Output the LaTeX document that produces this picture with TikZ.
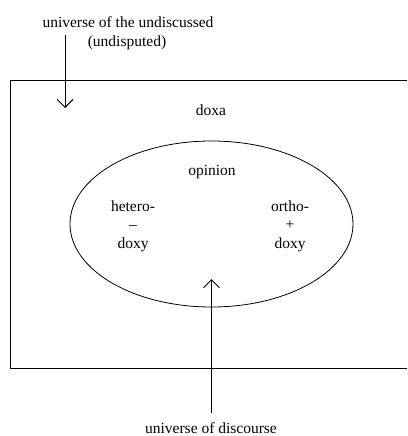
\documentclass[tikz,border=0pt]{standalone}
\usepackage{fontspec}
\setmainfont{Liberation Serif}
\usetikzlibrary{arrows.meta,shapes.geometric}
\begin{document}
\begin{tikzpicture}[x=1pt,y=-1pt,
  lbl/.style={inner sep=0pt,font=\fontsize{15.5}{20}\selectfont,align=center},
  conn/.style={line width=0.9pt,-{Straight Barb[length=8pt,width=16pt,line width=0.9pt]}},
  frame/.style={line width=0.9pt}]
\useasboundingbox (0,0) rectangle (407,436);
\draw[frame] (407,80) -- (10,80) -- (10,368) -- (407,368);
\node[draw,ellipse,line width=0.8pt,minimum width=283pt,minimum height=166pt,inner sep=0pt] (ell) at (211.5,224) {};
\node[lbl] (undisc) at (128,22) {universe of the undiscussed};
\node[lbl] (undisp) at (127,43) {(undisputed)};
\node[lbl] (doxa) at (211,110) {doxa};
\node[lbl] (opinion) at (212,172) {opinion};
\node[lbl] (hetero) at (133,226) {hetero-\\[-1.5pt]--\\[-1.5pt]doxy};
\node[lbl] (ortho) at (290,226) {ortho-\\[-1.5pt]+\\[-1.5pt]doxy};
\node[lbl] (disc) at (211,428) {universe of discourse};
\coordinate (a1s) at (65,35);
\coordinate (a1e) at (65,108);
\coordinate (a2s) at (211.5,413);
\coordinate (a2e) at (211.5,279);
\draw[conn] (a1s) -- (a1e);
\draw[conn] (a2s) -- (a2e);
\end{tikzpicture}
\end{document}
